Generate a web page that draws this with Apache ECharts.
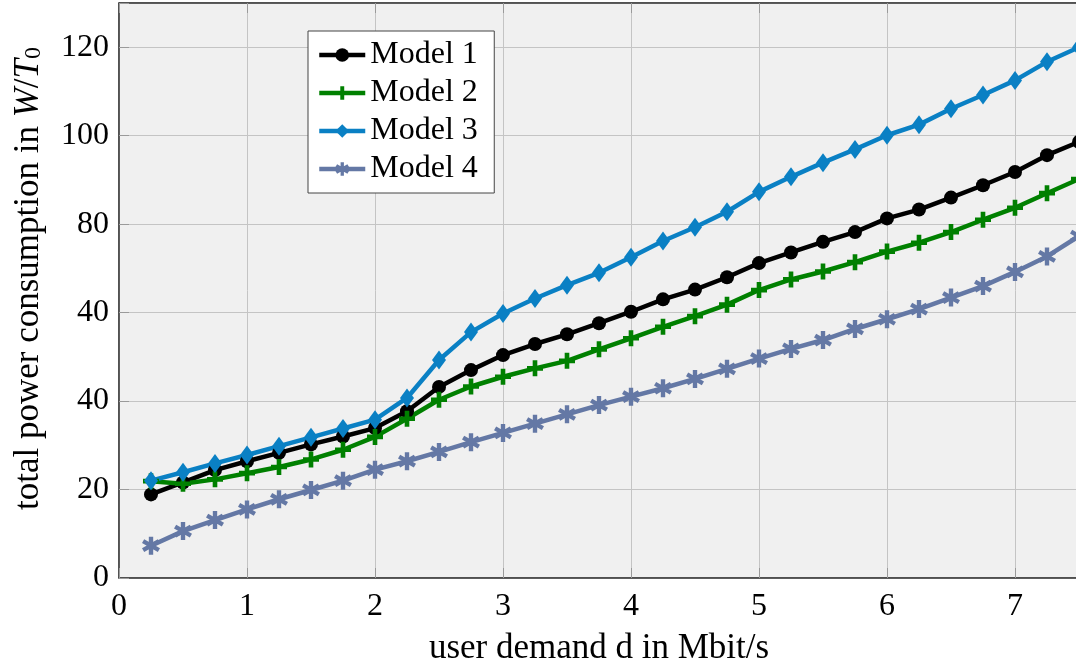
<!DOCTYPE html>
<html>
<head>
<meta charset="utf-8">
<script src="https://cdn.jsdelivr.net/npm/echarts@6/dist/echarts.min.js"></script>
<style>
  html, body { margin: 0; padding: 0; background: #ffffff; }
  #chart { width: 1076px; height: 669px; }
</style>
</head>
<body>
<div id="chart"></div>
<script>
// user demand d (Mbit/s)
const demand = [0.25, 0.5, 0.75, 1.0, 1.25, 1.5, 1.75, 2.0, 2.25, 2.5, 2.75, 3.0, 3.25, 3.5, 3.75,
                4.0, 4.25, 4.5, 4.75, 5.0, 5.25, 5.5, 5.75, 6.0, 6.25, 6.5, 6.75, 7.0, 7.25, 7.5];

// total power consumption per model
const model1 = [18.9, 21.6, 24.4, 26.4, 28.3, 30.2, 32.0, 33.9, 37.7, 43.2, 47.0, 50.4, 52.9, 55.1, 57.6,
                60.2, 63.0, 65.2, 68.0, 71.2, 73.6, 76.0, 78.2, 81.3, 83.3, 86.0, 88.8, 91.8, 95.6, 98.6];
const model2 = [21.9, 21.3, 22.3, 23.7, 25.1, 26.8, 29.0, 31.9, 36.0, 40.3, 43.3, 45.5, 47.4, 49.1, 51.7,
                54.2, 56.8, 59.2, 61.8, 65.1, 67.5, 69.3, 71.4, 73.8, 75.8, 78.2, 81.0, 83.7, 87.0, 90.2];
const model3 = [22.0, 23.9, 25.9, 27.8, 29.8, 31.8, 33.8, 35.8, 40.7, 49.3, 55.6, 59.8, 63.2, 66.2, 69.0,
                72.5, 76.2, 79.3, 82.8, 87.3, 90.7, 93.9, 96.9, 100.1, 102.5, 106.1, 109.2, 112.5, 116.7, 120.0];
const model4 = [7.3, 10.6, 13.1, 15.5, 17.8, 19.9, 22.0, 24.5, 26.4, 28.5, 30.7, 32.8, 34.9, 37.0, 39.1,
                41.0, 42.9, 45.0, 47.3, 49.6, 51.8, 53.8, 56.3, 58.5, 60.8, 63.4, 66.0, 69.2, 72.7, 77.3];

const seriesNames = ['Model 1', 'Model 2', 'Model 3', 'Model 4'];

// tick labels
const xTickLabels = ['0', '1', '2', '3', '4', '5', '6', '7'];
const yTickLabels = ['0', '20', '40', '40', '80', '100', '120'];

const FONT = '"Liberation Serif", "DejaVu Serif", serif';
const colors = ['#000000', '#008000', '#0a80c4', '#6478a5'];

// thick plus marker
const plusPath = 'path://M-1,-0.29L-0.29,-0.29L-0.29,-1L0.29,-1L0.29,-0.29L1,-0.29L1,0.29L0.29,0.29L0.29,1L-0.29,1L-0.29,0.29L-1,0.29Z';

// six-armed asterisk marker made of three bars
function asteriskPath() {
  const half = 0.24;
  let d = '';
  [90, 30, 150].forEach(function (deg) {
    const a = deg * Math.PI / 180;
    const ux = Math.cos(a), uy = Math.sin(a);
    const px = -uy * half, py = ux * half;
    const pts = [
      [ux + px, uy + py], [ux - px, uy - py],
      [-ux - px, -uy - py], [-ux + px, -uy + py]
    ];
    d += 'M' + pts.map(function (p) { return p[0].toFixed(3) + ',' + p[1].toFixed(3); }).join('L') + 'Z';
  });
  return 'path://' + d;
}

function pairs(values) {
  return demand.map(function (d, i) { return [d, values[i]]; });
}

const markers = [
  { symbol: 'circle', size: 14 },
  { symbol: plusPath, size: 16 },
  { symbol: 'diamond', size: [14, 19] },
  { symbol: asteriskPath(), size: 18 }
];
const dataSets = [model1, model2, model3, model4];

const chart = echarts.init(document.getElementById('chart'), null, { renderer: 'canvas' });

const axisLineColor = '#3a3a3a';
const gridColor = '#c4c4c4';
const tickColor = '#9a9a9a';

chart.setOption({
  animation: false,
  backgroundColor: '#ffffff',
  grid: {
    left: 119, top: 3, width: 960, bottom: 91,
    outerBoundsMode: 'none',
    containLabel: false,
    show: true,
    backgroundColor: '#f0f0f0',
    borderColor: axisLineColor,
    borderWidth: 1
  },
  legend: {
    orient: 'vertical',
    left: 308, top: 31,
    backgroundColor: '#ffffff',
    borderColor: '#444444',
    borderWidth: 1,
    borderRadius: 0,
    padding: [8, 8, 8, 9],
    itemWidth: 46,
    itemHeight: 17,
    itemGap: 6,
    lineStyle: { width: 4.5 },
    textStyle: { fontFamily: FONT, fontSize: 32, color: '#000', lineHeight: 32, width: 116 },
    data: seriesNames
  },
  xAxis: [{
    type: 'value',
    min: 0, max: 7.5, interval: 1,
    name: 'user demand d in Mbit/s',
    nameLocation: 'middle',
    nameGap: 53,
    nameTextStyle: { fontFamily: FONT, fontSize: 35, color: '#000' },
    axisLine: { show: true, lineStyle: { color: axisLineColor, width: 1.5 } },
    axisTick: { show: true, inside: true, length: 10, lineStyle: { color: tickColor } },
    axisLabel: {
      fontFamily: FONT, fontSize: 32, color: '#000', margin: 13,
      formatter: function (v) { return Number.isInteger(v) ? (xTickLabels[v] || '') : ''; }
    },
    splitLine: { show: true, lineStyle: { color: gridColor, width: 1 } }
  }, {
    type: 'value', position: 'top',
    min: 0, max: 7.5, interval: 1,
    axisLine: { show: true, lineStyle: { color: axisLineColor, width: 1.5 } },
    axisTick: { show: true, inside: true, length: 10, lineStyle: { color: tickColor } },
    axisLabel: { show: false },
    splitLine: { show: false }
  }],
  yAxis: {
    type: 'value',
    min: 0, max: 130, interval: 20,
    name: 'total power consumption in {i|W}/{i|T}{sub|0}',
    nameLocation: 'middle',
    nameGap: 73,
    nameTextStyle: {
      fontFamily: FONT, fontSize: 35, color: '#000',
      padding: [0, 0, 0, 24],
      rich: {
        i: { fontFamily: FONT, fontSize: 35, fontStyle: 'italic', color: '#000' },
        sub: { fontFamily: FONT, fontSize: 24, color: '#000', verticalAlign: 'bottom', padding: [9, 0, 0, 0] }
      }
    },
    axisLine: { show: true, lineStyle: { color: axisLineColor, width: 1.5 } },
    axisTick: { show: true, inside: true, length: 10, lineStyle: { color: tickColor } },
    axisLabel: {
      fontFamily: FONT, fontSize: 32, color: '#000', margin: 10,
      formatter: function (v) {
        const k = v / 20;
        return Number.isInteger(k) ? (yTickLabels[k] || '') : '';
      }
    },
    splitLine: { show: true, lineStyle: { color: gridColor, width: 1 } }
  },
  series: seriesNames.map(function (name, i) {
    return {
      name: name,
      type: 'line',
      xAxisIndex: 0,
      data: pairs(dataSets[i]),
      symbol: markers[i].symbol,
      symbolSize: markers[i].size,
      showAllSymbol: true,
      clip: false,
      lineStyle: { color: colors[i], width: 4.5 },
      itemStyle: { color: colors[i], borderWidth: 0 },
      emphasis: { disabled: true }
    };
  })
});
</script>
</body>
</html>
